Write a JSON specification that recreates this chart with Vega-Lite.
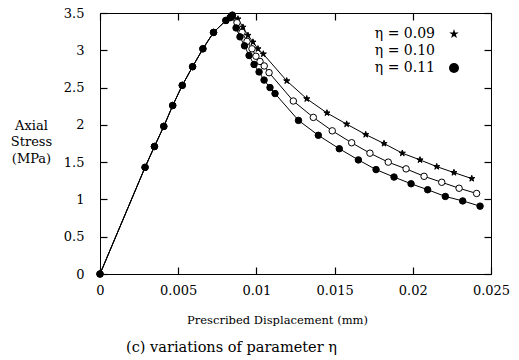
{
  "$schema": "https://vega.github.io/schema/vega-lite/v6.json",
  "width": 391,
  "height": 261,
  "autosize": {"type": "none"},
  "padding": {"left": 100, "top": 13, "right": 28, "bottom": 86},
  "background": "white",
  "config": {
    "font": "DejaVu Serif",
    "view": {"stroke": "black", "strokeWidth": 1},
    "axis": {
      "grid": false,
      "domain": false,
      "labelColor": "black",
      "labelFont": "DejaVu Serif",
      "labelFontSize": 13,
      "labelFlush": false,
      "titleColor": "black",
      "titleFont": "DejaVu Serif",
      "titleFontWeight": "normal",
      "titleFontSize": 13
    },
    "legend": {
      "labelFontSize": 14,
      "labelColor": "black",
      "labelFont": "DejaVu Serif"
    }
  },
  "title": {
    "text": "(c) variations of parameter η",
    "orient": "bottom",
    "anchor": "middle",
    "dx": -64,
    "fontSize": 14.5,
    "fontWeight": "normal",
    "color": "black",
    "font": "DejaVu Serif",
    "offset": 15
  },
  "data": {
    "values": [
      {"eta": "η = 0.09", "d": 0, "s": 0},
      {"eta": "η = 0.09", "d": 0.00288, "s": 1.43},
      {"eta": "η = 0.09", "d": 0.00348, "s": 1.71},
      {"eta": "η = 0.09", "d": 0.00408, "s": 1.98},
      {"eta": "η = 0.09", "d": 0.00465, "s": 2.26},
      {"eta": "η = 0.09", "d": 0.00526, "s": 2.53},
      {"eta": "η = 0.09", "d": 0.00592, "s": 2.78},
      {"eta": "η = 0.09", "d": 0.00658, "s": 3.02},
      {"eta": "η = 0.09", "d": 0.00726, "s": 3.24},
      {"eta": "η = 0.09", "d": 0.00805, "s": 3.40},
      {"eta": "η = 0.09", "d": 0.00833, "s": 3.44},
      {"eta": "η = 0.09", "d": 0.00846, "s": 3.47},
      {"eta": "η = 0.09", "d": 0.00882, "s": 3.42},
      {"eta": "η = 0.09", "d": 0.00914, "s": 3.31},
      {"eta": "η = 0.09", "d": 0.00946, "s": 3.20},
      {"eta": "η = 0.09", "d": 0.00978, "s": 3.11},
      {"eta": "η = 0.09", "d": 0.01010, "s": 3.02},
      {"eta": "η = 0.09", "d": 0.01044, "s": 2.95},
      {"eta": "η = 0.09", "d": 0.01194, "s": 2.59},
      {"eta": "η = 0.09", "d": 0.01322, "s": 2.35},
      {"eta": "η = 0.09", "d": 0.01451, "s": 2.16},
      {"eta": "η = 0.09", "d": 0.01577, "s": 2.01},
      {"eta": "η = 0.09", "d": 0.01699, "s": 1.87},
      {"eta": "η = 0.09", "d": 0.01816, "s": 1.75},
      {"eta": "η = 0.09", "d": 0.01933, "s": 1.62},
      {"eta": "η = 0.09", "d": 0.02046, "s": 1.53},
      {"eta": "η = 0.09", "d": 0.02153, "s": 1.44},
      {"eta": "η = 0.09", "d": 0.02263, "s": 1.36},
      {"eta": "η = 0.09", "d": 0.02377, "s": 1.28},
      {"eta": "η = 0.10", "d": 0, "s": 0},
      {"eta": "η = 0.10", "d": 0.00288, "s": 1.43},
      {"eta": "η = 0.10", "d": 0.00348, "s": 1.71},
      {"eta": "η = 0.10", "d": 0.00408, "s": 1.98},
      {"eta": "η = 0.10", "d": 0.00465, "s": 2.26},
      {"eta": "η = 0.10", "d": 0.00526, "s": 2.53},
      {"eta": "η = 0.10", "d": 0.00592, "s": 2.78},
      {"eta": "η = 0.10", "d": 0.00658, "s": 3.02},
      {"eta": "η = 0.10", "d": 0.00726, "s": 3.24},
      {"eta": "η = 0.10", "d": 0.00805, "s": 3.40},
      {"eta": "η = 0.10", "d": 0.00833, "s": 3.44},
      {"eta": "η = 0.10", "d": 0.00846, "s": 3.47},
      {"eta": "η = 0.10", "d": 0.00876, "s": 3.37},
      {"eta": "η = 0.10", "d": 0.00908, "s": 3.24},
      {"eta": "η = 0.10", "d": 0.00940, "s": 3.12},
      {"eta": "η = 0.10", "d": 0.00972, "s": 3.02},
      {"eta": "η = 0.10", "d": 0.00997, "s": 2.92},
      {"eta": "η = 0.10", "d": 0.01023, "s": 2.85},
      {"eta": "η = 0.10", "d": 0.01050, "s": 2.79},
      {"eta": "η = 0.10", "d": 0.01081, "s": 2.70},
      {"eta": "η = 0.10", "d": 0.01236, "s": 2.32},
      {"eta": "η = 0.10", "d": 0.01364, "s": 2.10},
      {"eta": "η = 0.10", "d": 0.01485, "s": 1.92},
      {"eta": "η = 0.10", "d": 0.01609, "s": 1.76},
      {"eta": "η = 0.10", "d": 0.01726, "s": 1.62},
      {"eta": "η = 0.10", "d": 0.01843, "s": 1.50},
      {"eta": "η = 0.10", "d": 0.01957, "s": 1.41},
      {"eta": "η = 0.10", "d": 0.02072, "s": 1.31},
      {"eta": "η = 0.10", "d": 0.02185, "s": 1.23},
      {"eta": "η = 0.10", "d": 0.02296, "s": 1.15},
      {"eta": "η = 0.10", "d": 0.02408, "s": 1.08},
      {"eta": "η = 0.11", "d": 0, "s": 0},
      {"eta": "η = 0.11", "d": 0.00288, "s": 1.43},
      {"eta": "η = 0.11", "d": 0.00348, "s": 1.71},
      {"eta": "η = 0.11", "d": 0.00408, "s": 1.98},
      {"eta": "η = 0.11", "d": 0.00465, "s": 2.26},
      {"eta": "η = 0.11", "d": 0.00526, "s": 2.53},
      {"eta": "η = 0.11", "d": 0.00592, "s": 2.78},
      {"eta": "η = 0.11", "d": 0.00658, "s": 3.02},
      {"eta": "η = 0.11", "d": 0.00726, "s": 3.24},
      {"eta": "η = 0.11", "d": 0.00805, "s": 3.40},
      {"eta": "η = 0.11", "d": 0.00833, "s": 3.44},
      {"eta": "η = 0.11", "d": 0.00846, "s": 3.47},
      {"eta": "η = 0.11", "d": 0.00870, "s": 3.30},
      {"eta": "η = 0.11", "d": 0.00895, "s": 3.18},
      {"eta": "η = 0.11", "d": 0.00924, "s": 3.06},
      {"eta": "η = 0.11", "d": 0.00953, "s": 2.93},
      {"eta": "η = 0.11", "d": 0.00985, "s": 2.81},
      {"eta": "η = 0.11", "d": 0.01017, "s": 2.71},
      {"eta": "η = 0.11", "d": 0.01049, "s": 2.60},
      {"eta": "η = 0.11", "d": 0.01087, "s": 2.50},
      {"eta": "η = 0.11", "d": 0.01119, "s": 2.42},
      {"eta": "η = 0.11", "d": 0.01269, "s": 2.06},
      {"eta": "η = 0.11", "d": 0.01396, "s": 1.86},
      {"eta": "η = 0.11", "d": 0.01530, "s": 1.68},
      {"eta": "η = 0.11", "d": 0.01652, "s": 1.53},
      {"eta": "η = 0.11", "d": 0.01765, "s": 1.40},
      {"eta": "η = 0.11", "d": 0.01880, "s": 1.30},
      {"eta": "η = 0.11", "d": 0.01989, "s": 1.21},
      {"eta": "η = 0.11", "d": 0.02095, "s": 1.13},
      {"eta": "η = 0.11", "d": 0.02208, "s": 1.04},
      {"eta": "η = 0.11", "d": 0.02319, "s": 0.98},
      {"eta": "η = 0.11", "d": 0.02430, "s": 0.91}
    ]
  },
  "layer": [
    {
      "mark": {"type": "line", "color": "black", "strokeWidth": 1},
      "encoding": {
        "x": {
          "field": "d", "type": "quantitative",
          "scale": {"domain": [0, 0.025], "nice": false},
          "axis": {
            "orient": "bottom",
            "values": [0, 0.005, 0.01, 0.015, 0.02, 0.025],
            "format": "~g",
            "ticks": true,
            "tickSize": -7,
            "tickWidth": 1.2,
            "tickColor": "black",
            "labelPadding": 17,
            "title": "Prescribed Displacement (mm)",
            "titleFontSize": 11.5,
            "titleX": 177,
            "titlePadding": 17
          }
        },
        "y": {
          "field": "s", "type": "quantitative",
          "scale": {"domain": [0, 3.5], "nice": false},
          "axis": {
            "orient": "left",
            "values": [0, 0.5, 1, 1.5, 2, 2.5, 3, 3.5],
            "format": "~g",
            "ticks": true,
            "tickSize": -7,
            "tickWidth": 1.2,
            "tickColor": "black",
            "labelPadding": 23,
            "title": ["Axial", "Stress", "(MPa)"],
            "titleAngle": 0,
            "titleAlign": "center",
            "titleBaseline": "top",
            "titleX": -69,
            "titleY": 106,
            "titleLineHeight": 16.5
          }
        },
        "detail": {"field": "eta"}
      }
    },
    {
      "mark": {"type": "point", "filled": true, "stroke": "black", "strokeWidth": 1, "opacity": 1},
      "encoding": {
        "x": {
          "field": "d", "type": "quantitative",
          "axis": {"orient": "top", "ticks": true, "tickSize": -7, "tickWidth": 1.2, "tickColor": "black", "values": [0, 0.005, 0.01, 0.015, 0.02, 0.025], "labels": false, "title": null}
        },
        "y": {
          "field": "s", "type": "quantitative",
          "axis": {"orient": "right", "ticks": true, "tickSize": -7, "tickWidth": 1.2, "tickColor": "black", "values": [0, 0.5, 1, 1.5, 2, 2.5, 3, 3.5], "labels": false, "title": null}
        },
        "shape": {
          "field": "eta", "type": "nominal",
          "scale": {
            "domain": ["η = 0.09", "η = 0.10", "η = 0.11"],
            "range": ["M0,-1L0.2245,-0.309L0.951,-0.309L0.363,0.118L0.588,0.809L0,0.382L-0.588,0.809L-0.363,0.118L-0.951,-0.309L-0.2245,-0.309Z", "circle", "circle"]
          },
          "legend": {
            "title": null,
            "orient": "none",
            "legendX": 347,
            "legendY": 14,
            "labelAlign": "right",
            "labelOffset": -26,
            "rowPadding": 3,
            "symbolStrokeColor": "black",
            "symbolStrokeWidth": 1
          }
        },
        "fill": {
          "field": "eta", "type": "nominal",
          "scale": {
            "domain": ["η = 0.09", "η = 0.10", "η = 0.11"],
            "range": ["black", "white", "black"]
          },
          "legend": {
            "title": null,
            "orient": "none",
            "legendX": 347,
            "legendY": 14,
            "labelAlign": "right",
            "labelOffset": -26,
            "rowPadding": 3,
            "symbolStrokeColor": "black",
            "symbolStrokeWidth": 1
          }
        },
        "size": {"value": 42}
      }
    }
  ],
  "resolve": {"axis": {"x": "independent", "y": "independent"}}
}
